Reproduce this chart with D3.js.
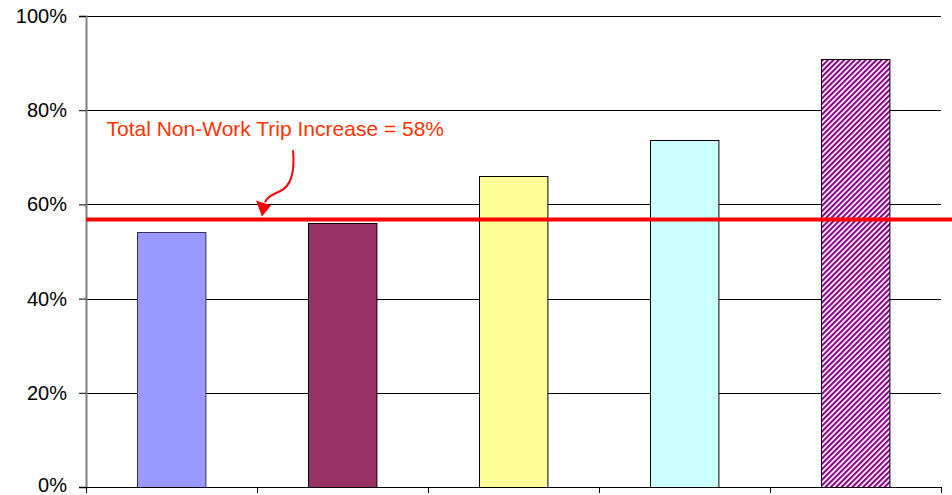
<!DOCTYPE html>
<html>
<head>
<meta charset="utf-8">
<script src="https://cdn.jsdelivr.net/npm/d3@7"></script>
<style>
  html, body { margin: 0; padding: 0; background: #fff; }
  svg { display: block; font-family: "Liberation Sans", Arial, sans-serif; }
</style>
</head>
<body>
<svg id="chart" width="952" height="495"></svg>
<script>
// ---- data ----
const categories = ["Category 1", "Category 2", "Category 3", "Category 4", "Category 5"];
const values = [54.2, 56.1, 66.1, 73.6, 90.8];
const barColors = ["#9999FF", "#993366", "#FFFF99", "#CCFFFF", "url(#hatch)"];
const yTicks = [0, 20, 40, 60, 80, 100];
const referenceValue = 56.8;
const referenceLabel = "Total Non-Work Trip Increase = 58%";

// ---- layout ----
const width = 952, height = 495;
const margin = { top: 16, right: 11, bottom: 8, left: 86 };
const plotW = width - margin.left - margin.right;
const plotH = height - margin.top - margin.bottom;

const svg = d3.select("#chart");
const defs = svg.append("defs");
const pat = defs.append("pattern")
  .attr("id", "hatch")
  .attr("patternUnits", "userSpaceOnUse")
  .attr("width", 3.8)
  .attr("height", 3.8)
  .attr("patternTransform", "rotate(45)");
pat.append("rect").attr("width", 3.8).attr("height", 3.8).attr("fill", "#ffffff");
pat.append("rect").attr("width", 2.1).attr("height", 3.8).attr("fill", "#8B008B");

const g = svg.append("g").attr("transform", `translate(${margin.left},${margin.top})`);

const x = d3.scaleBand().domain(categories).range([0, plotW])
  .paddingInner(0.6).paddingOuter(0.3);
const y = d3.scaleLinear().domain([0, 100]).range([plotH, 0]);

// gridlines
g.append("g").selectAll("line").data(yTicks.filter(d => d > 0)).join("line")
  .attr("x1", 0).attr("x2", plotW)
  .attr("y1", d => Math.round(y(d)) + 0.5).attr("y2", d => Math.round(y(d)) + 0.5)
  .attr("stroke", "#000").attr("stroke-width", 1);

// y axis
const yAxis = g.append("g")
  .call(d3.axisLeft(y).tickValues(yTicks).tickFormat(d => d + "%").tickSize(7).tickPadding(12));
yAxis.select(".domain").attr("stroke", "#808080").attr("stroke-width", 2);
yAxis.selectAll(".tick line").attr("stroke", "#000");
yAxis.selectAll(".tick text").attr("font-size", 20).attr("fill", "#000")
  .attr("font-family", "Liberation Sans, Arial, sans-serif")
  .attr("dy", d => d === 0 ? "0.2em" : "0.32em");

// bars
g.append("g").selectAll("rect").data(values).join("rect")
  .attr("x", (d, i) => Math.round(x(categories[i])) + 0.5)
  .attr("y", d => Math.round(y(d)) + 0.5)
  .attr("width", x.bandwidth())
  .attr("height", d => plotH - Math.round(y(d)))
  .attr("fill", (d, i) => barColors[i])
  .attr("stroke", (d, i) => i === 0 ? "#333355" : "#000")
  .attr("stroke-width", 1);

// x axis (ticks at category boundaries)
const xb = d3.range(categories.length + 1).map(i => i * x.step());
g.append("line").attr("x1", 0).attr("x2", plotW)
  .attr("y1", plotH + 0.5).attr("y2", plotH + 0.5).attr("stroke", "#000");
g.append("g").selectAll("line").data(xb).join("line")
  .attr("x1", d => Math.round(d) + 0.5).attr("x2", d => Math.round(d) + 0.5)
  .attr("y1", plotH).attr("y2", plotH + 6).attr("stroke", "#000");

// reference line
const ry = y(referenceValue);
g.append("line").attr("x1", 0).attr("x2", width - margin.left)
  .attr("y1", ry).attr("y2", ry)
  .attr("stroke", "#FF0000").attr("stroke-width", 4);

// annotation text
const tx = x.step() * 0.12;
g.append("text").attr("x", tx).attr("y", y(74.6))
  .attr("font-size", 21).attr("fill", "#FF3300")
  .text(referenceLabel);

// curved arrow
const ax0 = x.step() + 36, ay0 = y(71.5);
const tipX = x.step() + 5, tipY = ry - 3;
const arrow = d3.path();
arrow.moveTo(ax0, ay0);
arrow.bezierCurveTo(ax0 + 2, ay0 + 22, ax0 - 2, ay0 + 36, ax0 - 13, ay0 + 41);
arrow.bezierCurveTo(ax0 - 22, ay0 + 45, ax0 - 26, ay0 + 47, tipX + 3, tipY - 14);
g.append("path").attr("d", arrow.toString())
  .attr("fill", "none").attr("stroke", "#FF0000").attr("stroke-width", 2);
g.append("path")
  .attr("d", `M${tipX},${tipY} L${tipX - 6},${tipY - 16} L${tipX + 9},${tipY - 11} Z`)
  .attr("fill", "#FF0000");
</script>
</body>
</html>
